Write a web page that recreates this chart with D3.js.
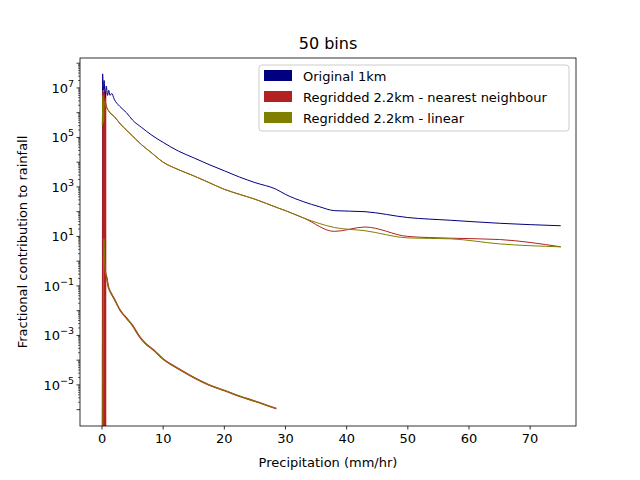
<!DOCTYPE html>
<html><head><meta charset="utf-8">
<script src="https://cdn.jsdelivr.net/npm/d3@7"></script>
<style>body{margin:0;background:#fff;font-family:"DejaVu Sans",sans-serif}</style>
</head><body><svg id="c" width="640" height="480"></svg>
<script>
// ── data ──
const blueX = [0.05, 0.1, 0.2, 0.35, 0.5, 0.7, 0.9, 1.1, 1.3, 1.6, 2.0, 2.9, 4.0, 5.0, 6.5, 8.0, 10, 12.5, 15, 17.5, 20, 22.5, 25, 28.5, 30, 33, 35.5, 38, 43, 50, 57, 65, 75];
const blueY = [1e-9, 3.7e7, 8e6, 2e7, 4e6, 1.2e7, 5e6, 8e6, 5e6, 6e6, 3.5e6, 1.8e6, 1e6, 5e5, 2.5e5, 1.3e5, 6.3e4, 2.8e4, 1.5e4, 8e3, 4.5e3, 2.5e3, 1.5e3, 800, 500, 250, 160, 110, 100, 58, 45, 34, 27];
const redX = [0.05, 0.15, 0.25, 0.35, 0.45, 0.55, 0.8, 1.3, 2.0, 3.0, 4.5, 6.5, 8.0, 10, 12.5, 15, 17.5, 20, 22.5, 25, 28.5, 30, 33, 38, 43, 50, 57, 65, 75];
const redY = [1e-9, 8e6, 1e-9, 6e6, 1e-9, 2.5e6, 1.6e6, 1e6, 7e5, 3.5e5, 1.5e5, 5e4, 2.5e4, 1e4, 5e3, 2.8e3, 1.5e3, 800, 500, 320, 150, 110, 55, 16, 24, 10, 8.5, 7.5, 3.8];
const oliveX = [0.05, 0.15, 0.25, 0.35, 0.55, 0.8, 1.3, 2.0, 3.0, 4.5, 6.5, 8.0, 10, 12.5, 15, 17.5, 20, 22.5, 25, 28.5, 30, 33, 38, 43, 50, 57, 65, 75];
const oliveY = [3e5, 5e6, 4e5, 3e6, 2e6, 1.5e6, 1e6, 7e5, 3.5e5, 1.5e5, 5e4, 2.5e4, 1e4, 5e3, 2.8e3, 1.5e3, 800, 500, 320, 150, 110, 55, 23, 17, 8.7, 8, 5, 3.8];
const lowX = [0.1, 0.3, 0.5, 0.8, 1.0, 1.5, 2.0, 3.0, 4.0, 5.0, 6.0, 7.0, 8.5, 10, 12.5, 15, 17.5, 20, 22.5, 25, 28.5];
const lowY = [1e-9, 8, 0.45, 0.2, 0.1, 0.05, 0.03, 0.01, 5e-3, 2.5e-3, 1e-3, 5e-4, 2.5e-4, 1.1e-4, 4.5e-5, 2e-5, 1e-5, 6e-6, 3.5e-6, 2.2e-6, 1.1e-6];
const legendLabels = ["Original 1km", "Regridded 2.2km - nearest neighbour", "Regridded 2.2km - linear"];
const colors = ["#000080", "#b22222", "#808000"];
const xTicks = [0, 10, 20, 30, 40, 50, 60, 70];
const yTicks = [-5, -3, -1, 1, 3, 5, 7];

const svg = d3.select("#c");
const L = 80, R = 576, T = 58, B = 426;
const x = d3.scaleLinear().domain([-3.6, 77.5]).range([L, R]);
const y = d3.scaleLog().domain([Math.pow(10, -6.66), Math.pow(10, 8.21)]).range([B, T]);

svg.append("clipPath").attr("id", "clip").append("rect")
  .attr("x", L).attr("y", T).attr("width", R - L).attr("height", B - T);
const plot = svg.append("g").attr("clip-path", "url(#clip)");
const line = d3.line().x(d => x(d[0])).y(d => y(d[1])).curve(d3.curveMonotoneX);
const draw = (xs, ys, col, w) => plot.append("path")
  .attr("d", line(d3.zip(xs, ys))).attr("fill", "none").attr("stroke", col).attr("stroke-width", w || 1);

// red spike band near zero
plot.append("rect").attr("x", x(0.05)).attr("width", x(0.7) - x(0.05))
  .attr("y", y(7e6)).attr("height", B - y(7e6)).attr("fill", colors[1]);
draw(blueX, blueY, colors[0]);
draw(redX, redY, colors[1]);
draw(oliveX, oliveY, colors[2]);
draw(lowX, lowY, colors[1], 1.6);
draw(lowX, lowY, colors[2]);

svg.append("rect").attr("x", L).attr("y", T).attr("width", R - L).attr("height", B - T)
  .attr("fill", "none").attr("stroke", "#000").attr("stroke-width", 0.8);

const xa = svg.append("g");
xTicks.forEach(t => {
  xa.append("line").attr("x1", x(t)).attr("x2", x(t)).attr("y1", B).attr("y2", B + 3.5).attr("stroke", "#000").attr("stroke-width", 0.8);
  xa.append("text").attr("x", x(t)).attr("y", B + 17).attr("text-anchor", "middle").attr("font-size", 13).text(t);
});
const ya = svg.append("g");
for (let e = -6; e <= 8; e++) {
  ya.append("line").attr("x1", L - 3.5).attr("x2", L).attr("y1", y(Math.pow(10, e))).attr("y2", y(Math.pow(10, e))).attr("stroke", "#000").attr("stroke-width", 0.8);
  for (let m = 2; m < 10; m++) {
    const py = y(m * Math.pow(10, e));
    if (py < T || py > B) continue;
    ya.append("line").attr("x1", L - 2).attr("x2", L).attr("y1", py).attr("y2", py).attr("stroke", "#000").attr("stroke-width", 0.6);
  }
}
yTicks.forEach(e => {
  const t = ya.append("text").attr("x", L - 6).attr("y", y(Math.pow(10, e)) + 5).attr("text-anchor", "end").attr("font-size", 13);
  t.append("tspan").text("10");
  t.append("tspan").attr("dy", -6).attr("font-size", 9.5).text(e < 0 ? "\u2212" + (-e) : e);
});

svg.append("text").attr("x", (L + R) / 2).attr("y", 49).attr("text-anchor", "middle").attr("font-size", 16).text("50 bins");
svg.append("text").attr("x", (L + R) / 2).attr("y", 467).attr("text-anchor", "middle").attr("font-size", 13).text("Precipitation (mm/hr)");
svg.append("text").attr("transform", `translate(27,${(T + B) / 2}) rotate(-90)`).attr("text-anchor", "middle").attr("font-size", 13).text("Fractional contribution to rainfall");

// legend
const lg = svg.append("g").attr("transform", "translate(259,65)");
lg.append("rect").attr("width", 310).attr("height", 66).attr("rx", 3).attr("fill", "#fff").attr("fill-opacity", 0.8).attr("stroke", "#ccc");
legendLabels.forEach((s, i) => {
  lg.append("rect").attr("x", 5).attr("y", 5 + i * 21).attr("width", 28).attr("height", 11).attr("fill", colors[i]);
  lg.append("text").attr("x", 44).attr("y", 15.5 + i * 21).attr("font-size", 13).text(s);
});
</script></body></html>
